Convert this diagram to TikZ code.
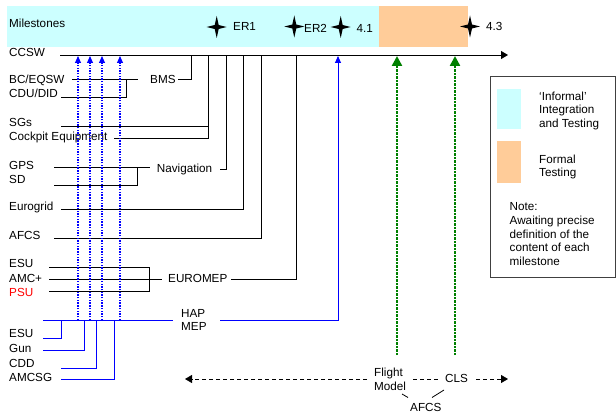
\documentclass[tikz,border=0pt]{standalone}
\usepackage{fontspec}
\setmainfont{Liberation Sans}
\usetikzlibrary{arrows.meta}
\definecolor{cyanband}{HTML}{CCFFFF}
\definecolor{orangeband}{HTML}{FFCC99}
\definecolor{dgreen}{HTML}{008000}
\definecolor{boxgrey}{HTML}{404040}
\tikzset{
  milestar/.pic={\fill[black] (-10,0) -- (-2,-2) -- (0,-11) -- (2,-2) -- (10,0) -- (2,2) -- (0,11) -- (-2,2) -- cycle;}
}
\begin{document}
\begin{tikzpicture}[x=1pt,y=-1pt,
  lbl/.style={anchor=base west, inner sep=0pt, font=\fontsize{11.7}{13.5}\selectfont},
  mlbl/.style={anchor=north west, inner sep=0pt, align=left, font=\fontsize{11.7}{13.5}\selectfont},
  wire/.style={line width=0.9pt, black},
  bwire/.style={line width=0.9pt, blue},
  bdot/.style={blue, line width=1.1pt, dash pattern=on 1.4pt off 1.3pt, -{Triangle[width=6pt,length=7pt]}},
  barrow/.style={bwire, -{Triangle[width=6pt,length=7pt]}},
  gdot/.style={dgreen, line width=2.4pt, dash pattern=on 2.2pt off 1.3pt, -{Triangle[width=10pt,length=10pt]}},
  bdash/.style={black, line width=0.8pt, dash pattern=on 4pt off 3pt},
  tip/.style={-{Triangle[width=8pt,length=7pt]}}
]
\useasboundingbox (0,0) rectangle (616,417);

% milestone bands
\fill[cyanband] (7,6) rectangle (379,47.5);
\fill[orangeband] (379,6) rectangle (468,47.5);
\node[lbl] (ms) at (9,28) {Milestones};
\pic at (216.7,27) {milestar};
\node[lbl] (er1) at (233,30.7) {ER1};
\pic at (294.3,26.5) {milestar};
\node[lbl] (er2) at (304,33) {ER2};
\pic at (340.7,27) {milestar};
\node[lbl] (m41) at (356.5,33) {4.1};
\pic at (470,26.5) {milestar};
\node[lbl] (m43) at (486,31) {4.3};

% axis
\node[lbl] (ccsw) at (9,56.5) {CCSW};
\coordinate (axL) at (60,55);
\coordinate (axR) at (508,55);
\draw[wire,tip] (axL) -- (axR);

% labels
\node[lbl] (bceqsw) at (9,84) {BC/EQSW};
\node[lbl] (cdudid) at (9,98) {CDU/DID};
\node[lbl] (bms) at (150,84) {BMS};
\node[lbl] (sgs) at (9,127) {SGs};
\node[lbl] (cockpit) at (9,141) {Cockpit Equipment};
\node[lbl] (gps) at (9,169) {GPS};
\node[lbl] (sd) at (9,183) {SD};
\node[lbl] (nav) at (156.7,172.5) {Navigation};
\node[lbl] (eurogrid) at (9,211) {Eurogrid};
\node[lbl] (afcs) at (9,239) {AFCS};
\node[lbl] (esu) at (9,267.5) {ESU};
\node[lbl] (amc) at (9,282) {AMC+};
\node[lbl, text=red] (psu) at (9,296) {PSU};
\node[lbl] (euromep) at (168,282.5) {EUROMEP};
\node[mlbl] (hapmep) at (181,309) {HAP\\MEP};
\node[lbl] (esub) at (9,337.5) {ESU};
\node[lbl] (gun) at (9,352) {Gun};
\node[lbl] (cdd) at (9,367) {CDD};
\node[lbl] (amcsg) at (9,381) {AMCSG};

% junction coordinates
\coordinate (bcA) at (72,79);   \coordinate (bcB) at (138,79);
\coordinate (cdA) at (61,97);   \coordinate (cdB) at (126,79);
\coordinate (bmA) at (178,79);  \coordinate (bmB) at (191,55);
\coordinate (sgA) at (61,126);  \coordinate (sgB) at (208,126);
\coordinate (ckA) at (114,138); \coordinate (ckB) at (208,55);
\coordinate (gpA) at (54,167);  \coordinate (gpB) at (150,167);
\coordinate (sdA) at (54,185);  \coordinate (sdB) at (137,167);
\coordinate (nvA) at (220,169); \coordinate (nvB) at (226,55);
\coordinate (egA) at (61,209);  \coordinate (egB) at (243,55);
\coordinate (afA) at (54,238);  \coordinate (afB) at (261,55);
\coordinate (esA) at (49,267);  \coordinate (esB) at (149,291);
\coordinate (psA) at (49,291);
\coordinate (amA) at (49,279);  \coordinate (amB) at (162,279);
\coordinate (emA) at (231,279); \coordinate (emB) at (296,55);

\draw[wire] (bcA) -- (bcB);
\draw[wire] (cdA) -| (cdB);
\draw[wire] (bmA) -| (bmB);
\draw[wire] (sgA) -- (sgB);
\draw[wire] (ckA) -| (ckB);
\draw[wire] (gpA) -- (gpB);
\draw[wire] (sdA) -| (sdB);
\draw[wire] (nvA) -| (nvB);
\draw[wire] (egA) -| (egB);
\draw[wire] (afA) -| (afB);
\draw[wire] (esA) -| (esB) -- (psA);
\draw[wire] (amA) -- (amB);
\draw[wire] (emA) -| (emB);

% blue HAP/MEP group
\coordinate (hpA) at (43,320);  \coordinate (hpB) at (173,320);
\coordinate (hpC) at (220,320); \coordinate (hpD) at (338,56);
\coordinate (ebA) at (43,338);  \coordinate (ebB) at (61,320);
\coordinate (guA) at (43,350);  \coordinate (guB) at (84,320);
\coordinate (cdbA) at (61,368); \coordinate (cdbB) at (96,320);
\coordinate (acA) at (61,379);  \coordinate (acB) at (114,320);
\draw[bwire] (hpA) -- (hpB);
\draw[barrow] (hpC) -| (hpD);
\draw[bwire] (ebA) -| (ebB);
\draw[bwire] (guA) -| (guB);
\draw[bwire] (cdbA) -| (cdbB);
\draw[bwire] (acA) -| (acB);

\foreach \x/\n in {78/a,90/b,102/c,120/d}{
  \coordinate (d\n0) at (\x,320);
  \coordinate (d\n1) at (\x,56);
  \draw[bdot] (d\n0) -- (d\n1);
}

% green arrows
\coordinate (g1A) at (397,355); \coordinate (g1B) at (397,56);
\coordinate (g2A) at (455,355); \coordinate (g2B) at (455,56);
\draw[gdot] (g1A) -- (g1B);
\draw[gdot] (g2A) -- (g2B);

% bottom time line
\node[mlbl] (flight) at (374,368) {Flight\\Model};
\node[lbl] (cls) at (445,382.5) {CLS};
\node[lbl] (afcsb) at (410,411.5) {AFCS};
\coordinate (bl0) at (367,379); \coordinate (bl1) at (185,379);
\coordinate (bm0) at (413,379); \coordinate (bm1) at (438,379);
\coordinate (br0) at (476,379); \coordinate (br1) at (508,379);
\draw[bdash,tip] (bl0) -- (bl1);
\draw[bdash] (bm0) -- (bm1);
\draw[bdash,tip] (br0) -- (br1);
\coordinate (t1a) at (402,394); \coordinate (t1b) at (408,397.5);
\coordinate (t2a) at (432,397.5); \coordinate (t2b) at (444,390);
\draw[black, line width=0.8pt] (t1a) -- (t1b);
\draw[black, line width=0.8pt] (t2a) -- (t2b);

% legend
\draw[boxgrey, line width=0.9pt] (490,76) rectangle (615,277);
\fill[cyanband] (497,89) rectangle (521,129);
\fill[orangeband] (497,141) rectangle (521,183);
\node[mlbl] (leg1) at (539,91.5) {‘Informal’\\Integration\\and Testing};
\node[mlbl] (leg2) at (539,154.8) {Formal\\Testing};
\node[mlbl, font=\fontsize{11.7}{13.75}\selectfont] (note) at (509.5,202.3) {Note:\\Awaiting precise\\definition of the\\content of each\\milestone};
\end{tikzpicture}
\end{document}
